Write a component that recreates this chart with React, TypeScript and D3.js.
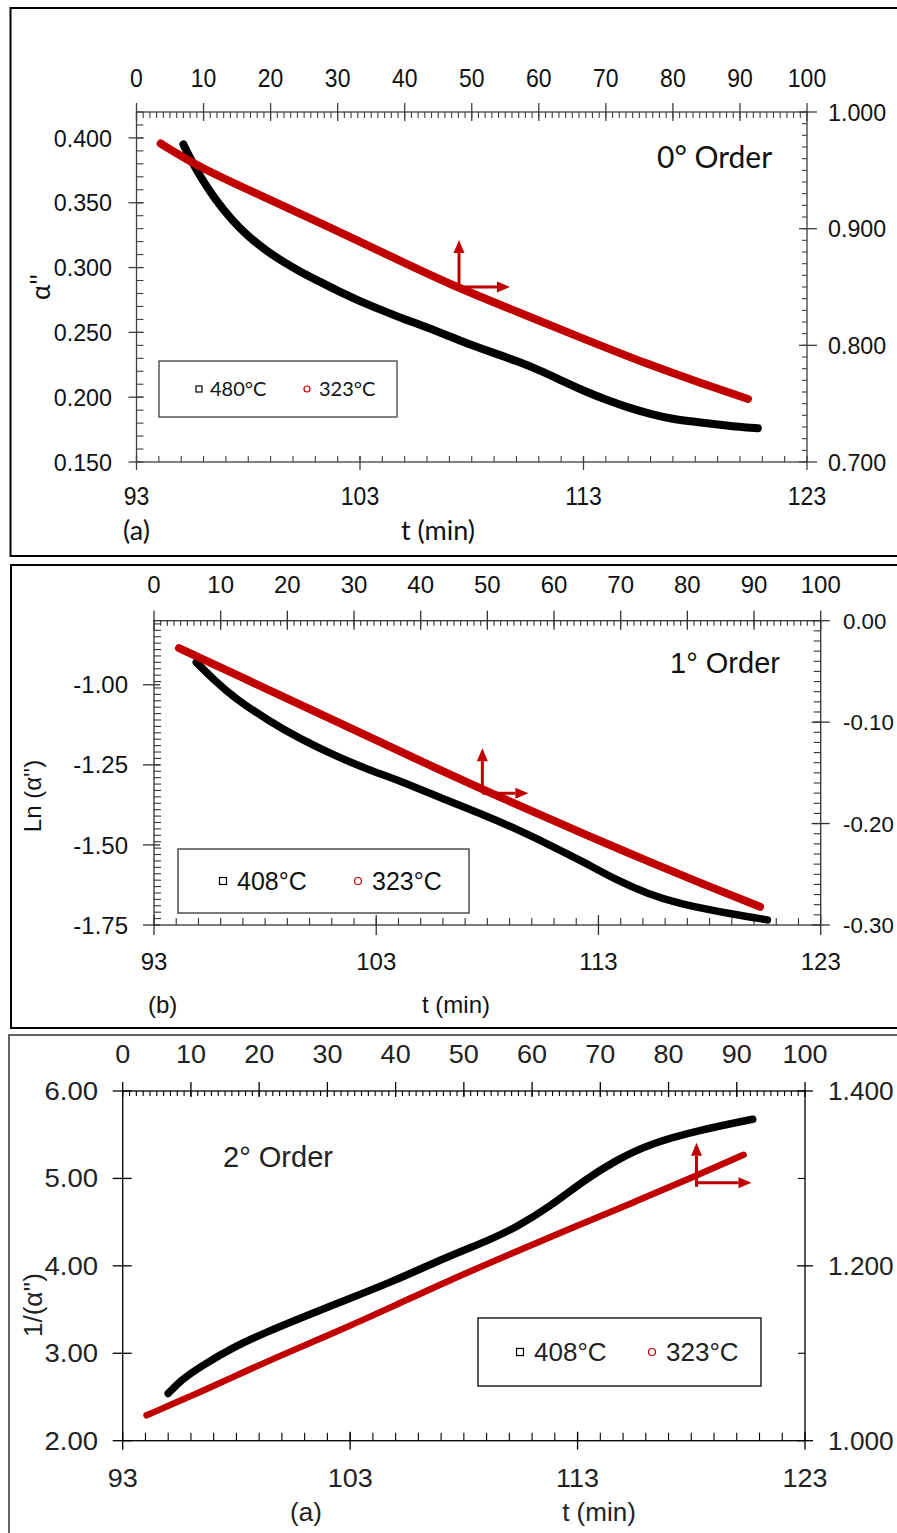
import React from "react";
import * as d3 from "d3";

const W = 897;
const H = 1533;
const RED = "#c00000";
const FA = "'Liberation Sans', Arial, sans-serif";
const FL = "Lato, 'Open Sans', sans-serif";

// ---------------- Panel (a): 0° order ----------------
const A_T_480 = [95.1, 95.5, 95.9, 96.5, 97.3, 98.0, 98.8, 99.6, 100.3, 101.1, 102.0, 103.0, 104.0, 105.0, 106.0, 107.0, 108.0, 109.0, 110.0, 111.0, 112.0, 113.0, 114.0, 115.0, 116.0, 117.0, 118.0, 119.0, 120.0, 120.8];
const A_Y_480 = [0.395, 0.381, 0.369, 0.353, 0.336, 0.324, 0.313, 0.304, 0.297, 0.290, 0.282, 0.274, 0.267, 0.260, 0.254, 0.247, 0.240, 0.234, 0.228, 0.221, 0.213, 0.205, 0.198, 0.192, 0.187, 0.183, 0.181, 0.179, 0.177, 0.176];
const A_U_323 = [3.6, 9.5, 19.5, 29.3, 38.0, 46.8, 56.7, 66.5, 76.6, 84.0, 91.2];
const A_V_323 = [0.973, 0.952, 0.926, 0.900, 0.876, 0.852, 0.829, 0.806, 0.783, 0.768, 0.754];
const A_ARROW = [48.1, 0.85];

// ---------------- Panel (b): 1° order ----------------
const B_T_408 = [94.9, 95.7, 96.6, 98.1, 99.6, 101.1, 102.6, 104.1, 106.3, 107.8, 109.3, 110.8, 112.3, 113.8, 115.3, 116.5, 117.6, 119.0, 120.6];
const B_Y_408 = [-0.93, -0.985, -1.04, -1.11, -1.17, -1.22, -1.264, -1.30, -1.365, -1.405, -1.45, -1.50, -1.552, -1.61, -1.655, -1.68, -1.697, -1.716, -1.734];
const B_U_323 = [3.75, 11.9, 26.9, 44.4, 50.9, 57.5, 64.4, 74.4, 82.5, 90.9];
const B_V_323 = [-0.027, -0.052, -0.098, -0.152, -0.171, -0.190, -0.210, -0.238, -0.260, -0.282];
const B_ARROW = [49.25, -0.17];

// ---------------- Panel (c): 2° order ----------------
const C_T_408 = [95.0, 95.6, 96.4, 97.9, 99.3, 100.8, 102.5, 104.7, 107.4, 109.0, 110.3, 111.8, 113.3, 114.7, 116.2, 118.4, 120.7];
const C_Y_408 = [2.54, 2.70, 2.845, 3.075, 3.24, 3.40, 3.58, 3.80, 4.12, 4.28, 4.44, 4.68, 4.98, 5.21, 5.40, 5.555, 5.677];
const C_U_323 = [3.5, 10, 16.2, 23, 30.9, 40, 48, 57, 66, 75, 84, 91];
const C_V_323 = [1.029, 1.051, 1.073, 1.097, 1.123, 1.155, 1.184, 1.214, 1.244, 1.273, 1.303, 1.327];
const C_ARROW = [84.1, 1.295];

// ---------------- tick labels ----------------
const T_BOTTOM = [93, 103, 113, 123];
const T_TOP = [0, 10, 20, 30, 40, 50, 60, 70, 80, 90, 100];
const A_LEFT = [0.15, 0.2, 0.25, 0.3, 0.35, 0.4];
const A_RIGHT = [0.7, 0.8, 0.9, 1.0];
const B_LEFT = [-1.75, -1.5, -1.25, -1.0];
const B_RIGHT = [-0.3, -0.2, -0.1, 0.0];
const C_LEFT = [2, 3, 4, 5, 6];
const C_RIGHT = [1.0, 1.2, 1.4];
const C_RIGHT_UNLABELED = [1.1, 1.3];

type Axis = {
  domain: [number, number];
  major: number[];
  minor: number[];
  fmt: (v: number) => string;
  out: number;
  inn: number;
  minorIn: number;
  pos: number;
  fs: number;
  sx: number;
};

type Series = { xs: number[]; ys: number[]; secondary: boolean; color: string; width: number };

type Spec = {
  box: { x: number; y: number; w: number; h: number; stroke: string };
  plot: { l: number; r: number; t: number; b: number };
  axisColor: string;
  textColor: string;
  bottom: Axis;
  top: Axis;
  left: Axis;
  right: Axis;
  series: Series[];
  arrow: { at: number[]; up: number; right: number; below: number };
  legend: { x: number; y: number; w: number; h: number; labels: string[]; mx: number[]; tx: number[]; fs: number; family: string; ms: number };
  texts: { s: string; x: number; y: number; fs: number; family: string; anchor: string; rotate?: boolean }[];
};

function T({ x, y, s, fs, anchor, family, sx = 1, fill, rotate = false, baseline }: any) {
  const tr = `translate(${x},${y})${rotate ? " rotate(-90)" : ""} scale(${sx},1)`;
  return (
    <text transform={tr} fontSize={fs} fontFamily={family} textAnchor={anchor} fill={fill} dominantBaseline={baseline}>
      {s}
    </text>
  );
}

function Arrow({ x1, y1, x2, y2 }: any) {
  const ang = Math.atan2(y2 - y1, x2 - x1);
  const L = 13;
  const hw = 5.5;
  const bx = x2 - L * Math.cos(ang);
  const by = y2 - L * Math.sin(ang);
  const px = -Math.sin(ang) * hw;
  const py = Math.cos(ang) * hw;
  return (
    <g>
      <line x1={x1} y1={y1} x2={bx} y2={by} stroke={RED} strokeWidth={3} />
      <path d={`M${x2},${y2}L${bx + px},${by + py}L${bx - px},${by - py}Z`} fill={RED} />
    </g>
  );
}

function Panel({ s }: { s: Spec }) {
  const { l, r, t, b } = s.plot;
  const xB = d3.scaleLinear().domain(s.bottom.domain).range([l, r]);
  const xT = d3.scaleLinear().domain(s.top.domain).range([l, r]);
  const yL = d3.scaleLinear().domain(s.left.domain).range([b, t]);
  const yR = d3.scaleLinear().domain(s.right.domain).range([b, t]);
  const ac = s.axisColor;
  const sw = 1.3;

  const hTicks = (ax: Axis, sc: any, y0: number, dir: number, key: string) => (
    <g key={key}>
      {ax.minor.map((v, i) => (
        <line key={"m" + i} x1={sc(v)} x2={sc(v)} y1={y0} y2={y0 + dir * ax.minorIn} stroke={ac} strokeWidth={1.1} />
      ))}
      {ax.major.map((v, i) => (
        <line key={"M" + i} x1={sc(v)} x2={sc(v)} y1={y0 - dir * ax.out} y2={y0 + dir * ax.inn} stroke={ac} strokeWidth={sw} />
      ))}
      {ax.major.map((v, i) => (
        <T key={"L" + i} x={sc(v)} y={ax.pos} s={ax.fmt(v)} fs={ax.fs} anchor="middle" family={FA} sx={ax.sx} fill={s.textColor} />
      ))}
    </g>
  );
  const vTicks = (ax: Axis, sc: any, x0: number, dir: number, anchor: string, key: string) => (
    <g key={key}>
      {ax.minor.map((v, i) => (
        <line key={"m" + i} y1={sc(v)} y2={sc(v)} x1={x0} x2={x0 + dir * ax.minorIn} stroke={ac} strokeWidth={1.1} />
      ))}
      {ax.major.map((v, i) => (
        <line key={"M" + i} y1={sc(v)} y2={sc(v)} x1={x0 - dir * ax.out} x2={x0 + dir * ax.inn} stroke={ac} strokeWidth={sw} />
      ))}
      {ax.major.map((v, i) => (
        <T key={"L" + i} x={ax.pos} y={sc(v) + ax.fs * 0.36} s={ax.fmt(v)} fs={ax.fs} anchor={anchor} family={FA} sx={ax.sx} fill={s.textColor} />
      ))}
    </g>
  );

  const line = d3.line<[number, number]>().curve(d3.curveBasis);
  const ax = xT(s.arrow.at[0]);
  const ay = yR(s.arrow.at[1]);
  const lg = s.legend;
  const lcy = lg.y + lg.h / 2;

  return (
    <g>
      <rect x={s.box.x} y={s.box.y} width={s.box.w} height={s.box.h} fill="none" stroke={s.box.stroke} strokeWidth={2} />
      <rect x={l} y={t} width={r - l} height={b - t} fill="none" stroke={ac} strokeWidth={sw} />
      {hTicks(s.bottom, xB, b, -1, "bt")}
      {hTicks(s.top, xT, t, 1, "tp")}
      {vTicks(s.left, yL, l, 1, "end", "lf")}
      {vTicks(s.right, yR, r, -1, "start", "rt")}
      <rect x={lg.x} y={lg.y} width={lg.w} height={lg.h} fill="#fff" stroke={ac} strokeWidth={1.3} />
      <rect x={lg.mx[0] - lg.ms / 2} y={lcy - lg.ms / 2} width={lg.ms} height={lg.ms} fill="#fff" stroke="#000" strokeWidth={1.2} />
      <circle cx={lg.mx[1]} cy={lcy} r={lg.ms / 2} fill="#fff" stroke={RED} strokeWidth={1.2} />
      <T x={lg.tx[0]} y={lcy + lg.fs * 0.36} s={lg.labels[0]} fs={lg.fs} anchor="start" family={lg.family} fill={s.textColor} />
      <T x={lg.tx[1]} y={lcy + lg.fs * 0.36} s={lg.labels[1]} fs={lg.fs} anchor="start" family={lg.family} fill={s.textColor} />
      {s.series.map((se, i) => {
        const xs = se.secondary ? xT : xB;
        const ys = se.secondary ? yR : yL;
        const pts = se.xs.map((v, k) => [xs(v), ys(se.ys[k])] as [number, number]);
        return <path key={i} d={line(pts) || ""} fill="none" stroke={se.color} strokeWidth={se.width} strokeLinecap="round" strokeLinejoin="round" />;
      })}
      <Arrow x1={ax} y1={ay + s.arrow.below} x2={ax} y2={ay - s.arrow.up} />
      <Arrow x1={ax} y1={ay} x2={ax + s.arrow.right} y2={ay} />
      {s.texts.map((tx, i) => (
        <T key={i} x={tx.x} y={tx.y} s={tx.s} fs={tx.fs} anchor={tx.anchor} family={tx.family} fill={s.textColor} rotate={tx.rotate} baseline={tx.rotate ? "central" : undefined} />
      ))}
    </g>
  );
}

const f3 = (v: number) => v.toFixed(3);
const f2 = (v: number) => v.toFixed(2);
const f0 = (v: number) => String(v);

const specA: Spec = {
  box: { x: 10.5, y: 8, w: 900, h: 548, stroke: "#000" },
  plot: { l: 136.5, r: 807, t: 112, b: 462 },
  axisColor: "#404040",
  textColor: "#111",
  bottom: { domain: [93, 123], major: T_BOTTOM, minor: d3.range(94, 123, 1), fmt: f0, out: 8, inn: 6, minorIn: 6, pos: 505, fs: 25, sx: 0.92 },
  top: { domain: [0, 100], major: T_TOP, minor: d3.range(1, 100, 1), fmt: f0, out: 9, inn: 9, minorIn: 6, pos: 87, fs: 25, sx: 0.92 },
  left: { domain: [0.15, 0.42], major: A_LEFT, minor: d3.range(0.16, 0.4201, 0.01), fmt: f3, out: 8, inn: 7, minorIn: 7, pos: 112, fs: 24, sx: 0.97 },
  right: { domain: [0.7, 1.0], major: A_RIGHT, minor: d3.range(0.71, 1.0, 0.01), fmt: f3, out: 10, inn: 8, minorIn: 5, pos: 828, fs: 24, sx: 0.97 },
  series: [
    { xs: A_T_480, ys: A_Y_480, secondary: false, color: "#000", width: 8 },
    { xs: A_U_323, ys: A_V_323, secondary: true, color: RED, width: 8 },
  ],
  arrow: { at: A_ARROW, up: 47, right: 51, below: 0 },
  legend: { x: 159, y: 361, w: 238, h: 56, labels: ["480°C", "323°C"], mx: [199, 307], tx: [210, 319], fs: 20, family: FL, ms: 6 },
  texts: [
    { s: "0° Order", x: 657, y: 168, fs: 30, family: FL, anchor: "start" },
    { s: "(a)", x: 123, y: 540, fs: 27, family: FL, anchor: "start" },
    { s: "t (min)", x: 438, y: 540, fs: 27, family: FL, anchor: "middle" },
    { s: "α''", x: 40, y: 287, fs: 26, family: FL, anchor: "middle", rotate: true },
  ],
};

const specB: Spec = {
  box: { x: 11, y: 565, w: 900, h: 463, stroke: "#000" },
  plot: { l: 154, r: 820.7, t: 620.7, b: 925 },
  axisColor: "#333",
  textColor: "#111",
  bottom: { domain: [93, 123], major: T_BOTTOM, minor: d3.range(94, 123, 1), fmt: f0, out: 10, inn: 10, minorIn: 7, pos: 970, fs: 24, sx: 1 },
  top: { domain: [0, 100], major: T_TOP, minor: d3.range(1, 100, 1), fmt: f0, out: 10, inn: 9, minorIn: 5, pos: 593, fs: 24, sx: 1 },
  left: { domain: [-1.75, -0.8], major: B_LEFT, minor: d3.range(-1.73, -0.805, 0.02), fmt: f2, out: 11, inn: 6, minorIn: 7, pos: 128, fs: 24, sx: 1 },
  right: { domain: [-0.3, 0], major: B_RIGHT, minor: d3.range(-0.29, -0.005, 0.01), fmt: f2, out: 9, inn: 9, minorIn: 7, pos: 843, fs: 23, sx: 0.97 },
  series: [
    { xs: B_T_408, ys: B_Y_408, secondary: false, color: "#000", width: 7.5 },
    { xs: B_U_323, ys: B_V_323, secondary: true, color: RED, width: 8 },
  ],
  arrow: { at: B_ARROW, up: 45, right: 46, below: 0 },
  legend: { x: 178, y: 849, w: 291, h: 64, labels: ["408°C", "323°C"], mx: [223, 358], tx: [237, 372], fs: 25, family: FA, ms: 7 },
  texts: [
    { s: "1° Order", x: 670, y: 673, fs: 29, family: FA, anchor: "start" },
    { s: "(b)", x: 148, y: 1013, fs: 24, family: FA, anchor: "start" },
    { s: "t (min)", x: 456, y: 1013, fs: 24, family: FA, anchor: "middle" },
    { s: "Ln (α'')", x: 32, y: 796, fs: 24, family: FA, anchor: "middle", rotate: true },
  ],
};

const specC: Spec = {
  box: { x: 9, y: 1035, w: 900, h: 520, stroke: "#666" },
  plot: { l: 122.7, r: 805, t: 1091, b: 1440.7 },
  axisColor: "#000",
  textColor: "#222",
  bottom: { domain: [93, 123], major: T_BOTTOM, minor: d3.range(94, 123, 1), fmt: f0, out: 9, inn: 9, minorIn: 8, pos: 1487, fs: 25, sx: 1.08 },
  top: { domain: [0, 100], major: T_TOP, minor: d3.range(1, 100, 1), fmt: f0, out: 9, inn: 6, minorIn: 5, pos: 1063, fs: 25, sx: 1.08 },
  left: { domain: [2, 6], major: C_LEFT, minor: [], fmt: f2, out: 10, inn: 9, minorIn: 0, pos: 98, fs: 25, sx: 1.1 },
  right: { domain: [1.0, 1.4], major: C_RIGHT, minor: C_RIGHT_UNLABELED, fmt: f3, out: 8, inn: 8, minorIn: 7, pos: 828, fs: 25, sx: 1.05 },
  series: [
    { xs: C_T_408, ys: C_Y_408, secondary: false, color: "#000", width: 7.5 },
    { xs: C_U_323, ys: C_V_323, secondary: true, color: RED, width: 6.5 },
  ],
  arrow: { at: C_ARROW, up: 40, right: 55, below: 4 },
  legend: { x: 478, y: 1318, w: 283, h: 68, labels: ["408°C", "323°C"], mx: [520, 652], tx: [534, 666], fs: 26, family: FA, ms: 7 },
  texts: [
    { s: "2° Order", x: 223, y: 1167, fs: 29, family: FA, anchor: "start" },
    { s: "(a)", x: 306, y: 1521, fs: 26, family: FA, anchor: "middle" },
    { s: "t (min)", x: 599, y: 1521, fs: 26, family: FA, anchor: "middle" },
    { s: "1/(α'')", x: 33, y: 1305, fs: 26, family: FA, anchor: "middle", rotate: true },
  ],
};

export default function App() {
  return (
    <svg width={W} height={H} viewBox={`0 0 ${W} ${H}`} style={{ position: "absolute", left: 0, top: 0, background: "#fff" }}>
      <rect x={0} y={0} width={W} height={H} fill="#fff" />
      <Panel s={specA} />
      <Panel s={specB} />
      <Panel s={specC} />
    </svg>
  );
}
